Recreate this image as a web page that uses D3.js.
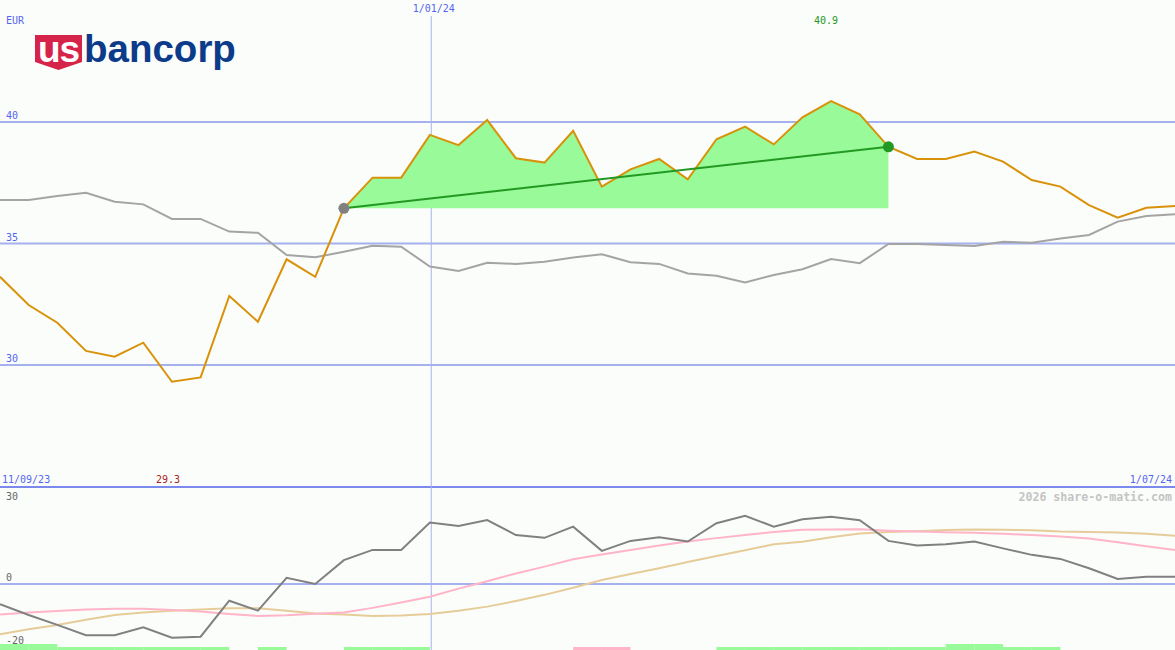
<!DOCTYPE html>
<html><head><meta charset="utf-8">
<script src="https://cdn.jsdelivr.net/npm/d3@7/dist/d3.min.js"></script>
<style>
html,body{margin:0;padding:0;background:#fbfdfb;}
svg{display:block;}
text{font-family:"DejaVu Sans Mono",monospace;font-size:10px;}
</style></head>
<body>
<svg id="chart" width="1175" height="650"></svg>
<script>
// ---- data (weekly) ----
const startLabel = "11/09/23";
const endLabel = "1/07/24";
const markerLabel = "1/01/24";
const markerIndex = 15.03;
const currency = "EUR";
const priceTicks = [30, 35, 40];
const oscTicks = [30, 0, -20];
const price = [33.63,32.47,31.74,30.58,30.34,30.92,29.31,29.49,32.84,31.78,34.35,33.63,36.45,37.71,37.71,39.47,39.05,40.08,38.51,38.33,39.64,37.34,38.05,38.48,37.64,39.29,39.81,39.08,40.19,40.86,40.32,38.98,38.48,38.48,38.78,38.37,37.61,37.34,36.58,36.06,36.47,36.54];
const benchmark = [36.79,36.79,36.95,37.09,36.72,36.61,36.01,36.01,35.49,35.44,34.53,34.43,34.66,34.91,34.87,34.05,33.87,34.21,34.16,34.25,34.42,34.56,34.23,34.16,33.77,33.67,33.40,33.70,33.94,34.36,34.19,34.98,34.98,34.94,34.90,35.07,35.03,35.21,35.35,35.90,36.13,36.20];
const momentum = [-6.5,-10,-13.2,-16.5,-16.5,-14,-17.3,-17,-5.4,-8.6,2.0,0,7.7,11,11,19.8,18.7,20.6,15.8,14.9,18.5,10.7,13.9,15.1,13.7,19.6,22,18.5,20.9,21.7,20.6,13.9,12.4,12.8,13.7,11.5,9.4,8.1,5.1,1.6,2.3,2.3];
const avgFast = [-9.8,-9.2,-8.7,-8.2,-8.0,-8.0,-8.4,-8.9,-9.7,-10.3,-10.1,-9.6,-9.2,-7.7,-6.0,-4.1,-1.5,0.9,3.4,5.6,8.0,9.5,11,12.4,13.7,14.8,15.8,16.8,17.5,17.6,17.7,17.2,16.9,16.7,16.5,16.2,15.8,15.3,14.7,13.5,12.2,11];
const avgSlow = [-16.2,-14.6,-13.2,-11.5,-10,-9.2,-8.6,-8.2,-7.8,-7.8,-8.6,-9.5,-9.8,-10.3,-10.2,-9.7,-8.6,-7.3,-5.5,-3.5,-1.2,1.3,3.2,5.1,7.1,9,10.9,12.8,13.6,15.1,16.3,16.8,17.0,17.4,17.6,17.5,17.3,16.9,16.8,16.6,16.2,15.6];
// signal per interval i -> i+1 : 2 strong buy, 1 buy, -1 sell, 0 none
const signals = [2,2,1,1,1,1,1,1,0,1,0,0,1,1,1,0,0,0,0,0,-1,-1,0,0,0,1,1,1,1,1,1,1,1,2,2,1,1,0,0,0,0];
const trendStart = 12, trendEnd = 31;
const watermark = "2026 share-o-matic.com";

const svg = d3.select("#chart");
const W = 1175;
const x = d3.scaleLinear().domain([0, price.length - 1]).range([0, W]);
const y = d3.scaleLinear().domain([30, 40]).range([365, 122]);
const yo = d3.scaleLinear().domain([-20, 0]).range([646, 584]);

const blue = "#5566ee", gridC = "#a6b2ee";

// grid lines main
svg.selectAll("line.g").data(priceTicks).join("line")
  .attr("x1", 0).attr("x2", W).attr("y1", d => y(d)).attr("y2", d => y(d))
  .attr("stroke", gridC).attr("stroke-width", 2);
svg.selectAll("text.pt").data(priceTicks).join("text")
  .attr("x", 6).attr("y", d => y(d) - 3).attr("fill", blue).text(d => d);

// separator
svg.append("line").attr("x1", 0).attr("x2", W).attr("y1", 487).attr("y2", 487)
  .attr("stroke", "#7b88ee").attr("stroke-width", 2);
// osc zero line
svg.append("line").attr("x1", 0).attr("x2", W).attr("y1", yo(0)).attr("y2", yo(0))
  .attr("stroke", gridC).attr("stroke-width", 2);
// marker vertical line
svg.append("line").attr("x1", x(markerIndex) + 0.5).attr("x2", x(markerIndex) + 0.5)
  .attr("y1", 16).attr("y2", 650).attr("stroke", "#a6b2ee").attr("stroke-width", 1);

// labels
svg.append("text").attr("x", 6).attr("y", 24).attr("fill", blue).text(currency);
svg.append("text").attr("x", x(markerIndex) + 3).attr("y", 12).attr("text-anchor", "middle").attr("fill", blue).text(markerLabel);
svg.append("text").attr("x", 2).attr("y", 483).attr("fill", blue).text(startLabel);
svg.append("text").attr("x", 1172).attr("y", 483).attr("text-anchor", "end").attr("fill", blue).text(endLabel);
const maxI = d3.maxIndex(price), minI = d3.minIndex(price);
svg.append("text").attr("x", x(maxI) - 5).attr("y", 24).attr("text-anchor", "middle").attr("fill", "#229922").text(d3.format(".1f")(price[maxI]));
svg.append("text").attr("x", x(minI) - 4).attr("y", 483).attr("text-anchor", "middle").attr("fill", "#aa2222").text(d3.format(".1f")(price[minI]));
svg.append("text").attr("x", 1172).attr("y", 501).attr("text-anchor", "end").attr("fill", "#c4c4c4")
  .style("font-size", "11.6px").style("font-weight", "bold").text(watermark);
const oscLabelY = {"30": 500, "0": 581, "-20": 644};
svg.selectAll("text.ot").data(oscTicks).join("text")
  .attr("x", 6).attr("y", d => oscLabelY[d]).attr("fill", "#666").text(d => d);

// logo
const logo = svg.append("g");
logo.append("path").attr("d", "M35,35 L82,35 L82,62 L58.5,70 L35,62 Z").attr("fill", "#d6234a");
logo.append("text").attr("x", 58.5).attr("y", 62).attr("text-anchor", "middle").attr("fill", "#fff")
  .style("font-family", "'Liberation Sans',Arial,sans-serif").style("font-weight", "bold").style("font-size", "37px")
  .style("letter-spacing", "-1px").text("us");
logo.append("text").attr("x", 84).attr("y", 62).attr("fill", "#0c3b8a")
  .style("font-family", "'Liberation Sans',Arial,sans-serif").style("font-weight", "bold").style("font-size", "38.5px")
  .style("letter-spacing", "0px").text("bancorp");

// green area
const idx = d3.range(trendStart, trendEnd + 1);
const base = y(price[trendStart]);
svg.append("path").datum(idx)
  .attr("d", d3.area().x(i => x(i)).y0(base).y1(i => y(price[i])))
  .attr("fill", "#98fa98");

// benchmark
svg.append("path").datum(benchmark)
  .attr("d", d3.line().x((d, i) => x(i)).y(d => y(d)))
  .attr("fill", "none").attr("stroke", "#a4a4a4").attr("stroke-width", 2);
// price
svg.append("path").datum(price)
  .attr("d", d3.line().x((d, i) => x(i)).y(d => y(d)))
  .attr("fill", "none").attr("stroke", "#d8920a").attr("stroke-width", 2);
// trend line
svg.append("line").attr("x1", x(trendStart)).attr("y1", y(price[trendStart]))
  .attr("x2", x(trendEnd)).attr("y2", y(price[trendEnd]))
  .attr("stroke", "#229922").attr("stroke-width", 2);
svg.append("circle").attr("cx", x(trendStart)).attr("cy", y(price[trendStart])).attr("r", 5.5).attr("fill", "#808080");
svg.append("circle").attr("cx", x(trendEnd)).attr("cy", y(price[trendEnd])).attr("r", 5.5).attr("fill", "#229922");

// oscillator panel
const oline = d3.line().x((d, i) => x(i)).y(d => yo(d));
svg.append("path").datum(avgSlow).attr("d", oline).attr("fill", "none").attr("stroke", "#e6cc99").attr("stroke-width", 2);
svg.append("path").datum(avgFast).attr("d", oline).attr("fill", "none").attr("stroke", "#ffb4c8").attr("stroke-width", 2);
svg.append("path").datum(momentum).attr("d", oline).attr("fill", "none").attr("stroke", "#808080").attr("stroke-width", 2);

// signal strip
svg.selectAll("rect.sig").data(signals.map((s, i) => ({s, i})).filter(d => d.s !== 0)).join("rect")
  .attr("x", d => x(d.i)).attr("width", d => x(d.i + 1) - x(d.i))
  .attr("y", d => Math.abs(d.s) === 2 ? 644 : 647).attr("height", d => Math.abs(d.s) === 2 ? 6 : 3)
  .attr("fill", d => d.s > 0 ? "#98fa98" : "#ffb4c8");
</script>
</body></html>
